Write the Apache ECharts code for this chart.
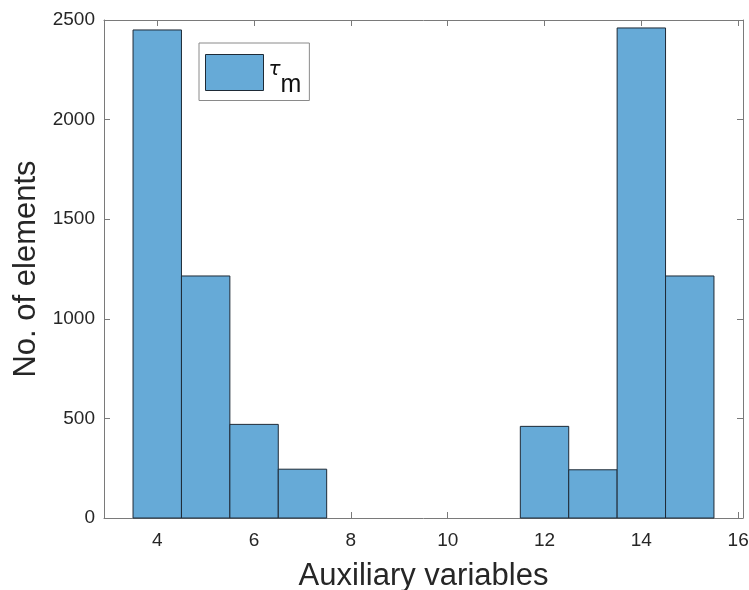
<!DOCTYPE html>
<html>
<head>
<meta charset="utf-8">
<script src="https://cdn.jsdelivr.net/npm/echarts@6/dist/echarts.min.js"></script>
<style>
  html, body { margin: 0; padding: 0; background: #fff; }
  #chart { width: 749px; height: 590px; }
</style>
</head>
<body>
<div id="chart"></div>
<script>
// Histogram bins: centre of each unit-wide bin and its count
const binCenters = [4, 5, 6, 7, 8, 9, 10, 11, 12, 13, 14, 15];
const binCounts  = [2450, 1215, 470, 245, 0, 0, 0, 0, 460, 242, 2460, 1215];
const binWidth = 1;

const xTickValues = [4, 6, 8, 10, 12, 14, 16];
const seriesName = 'tau_m';

const FONT = '"Liberation Sans", Arial, Helvetica, sans-serif';
const AXIS_COLOR = '#7a7a7a';
const TEXT_COLOR = '#262626';
const FACE = '#66aad7';
const EDGE = '#1e2a36';

const chart = echarts.init(document.getElementById('chart'), null, { renderer: 'canvas' });

const data = binCenters.map((c, i) => [c, binCounts[i]]);

const commonX = {
  type: 'value',
  min: 2.9,
  max: 16.1,
  splitLine: { show: false },
  axisLine: { show: true, onZero: false, lineStyle: { color: AXIS_COLOR, width: 1 } }
};
const commonY = {
  type: 'value',
  min: 0,
  max: 2500,
  interval: 500,
  splitLine: { show: false },
  axisLine: { show: true, onZero: false, lineStyle: { color: AXIS_COLOR, width: 1 } }
};

chart.setOption({
  animation: false,
  backgroundColor: '#ffffff',
  grid: { left: 104, right: 6, top: 20, bottom: 72, containLabel: false, outerBoundsMode: 'none' },
  xAxis: [
    Object.assign({}, commonX, {
      position: 'bottom',
      name: 'Auxiliary variables',
      nameLocation: 'middle',
      nameGap: 43,
      nameTextStyle: { fontFamily: FONT, fontSize: 31, color: TEXT_COLOR },
      axisTick: { show: true, inside: true, length: 6, customValues: xTickValues, lineStyle: { color: AXIS_COLOR } },
      axisLabel: { show: true, customValues: xTickValues, margin: 13, fontFamily: FONT, fontSize: 19, color: TEXT_COLOR }
    }),
    Object.assign({}, commonX, {
      position: 'top',
      axisTick: { show: true, inside: true, length: 6, customValues: xTickValues, lineStyle: { color: AXIS_COLOR } },
      axisLabel: { show: false }
    })
  ],
  yAxis: [
    Object.assign({}, commonY, {
      position: 'left',
      name: 'No. of elements',
      nameLocation: 'middle',
      nameGap: 55,
      nameTextStyle: { fontFamily: FONT, fontSize: 31, color: TEXT_COLOR },
      axisTick: { show: true, inside: true, length: 6, lineStyle: { color: AXIS_COLOR } },
      axisLabel: { show: true, margin: 9, fontFamily: FONT, fontSize: 19, color: TEXT_COLOR, formatter: v => String(v) }
    }),
    Object.assign({}, commonY, {
      position: 'right',
      axisTick: { show: true, inside: true, length: 6, lineStyle: { color: AXIS_COLOR } },
      axisLabel: { show: false }
    })
  ],
  legend: {
    show: true,
    left: 199,
    top: 43,
    orient: 'vertical',
    backgroundColor: '#ffffff',
    borderColor: '#8a8a8a',
    borderWidth: 1,
    borderRadius: 0,
    padding: [11, 8, 3, 6],
    itemWidth: 58,
    itemHeight: 36,
    itemGap: 0,
    data: [{
      name: seriesName,
      icon: 'rect',
      itemStyle: { color: FACE, borderColor: EDGE, borderWidth: 1 }
    }],
    formatter: () => '{t|τ}{s|m}',
    textStyle: {
      color: '#111',
      rich: {
        t: { fontFamily: '"DejaVu Sans", sans-serif', fontStyle: 'italic', fontSize: 20, padding: [0, 0, 6, 0] },
        s: { fontFamily: FONT, fontSize: 25, padding: [25, 0, 0, 0] }
      }
    }
  },
  series: [{
    name: seriesName,
    type: 'custom',
    xAxisIndex: 0,
    yAxisIndex: 0,
    data: data,
    itemStyle: { color: FACE, borderColor: EDGE, borderWidth: 1 },
    renderItem: function (params, api) {
      const c = api.value(0);
      const v = api.value(1);
      if (!v) return null;
      const p0 = api.coord([c - binWidth / 2, 0]);
      const p1 = api.coord([c + binWidth / 2, v]);
      return {
        type: 'rect',
        shape: { x: p0[0], y: p1[1], width: p1[0] - p0[0], height: p0[1] - p1[1] },
        style: { fill: FACE, stroke: EDGE, lineWidth: 1 }
      };
    }
  }]
});
</script>
</body>
</html>
